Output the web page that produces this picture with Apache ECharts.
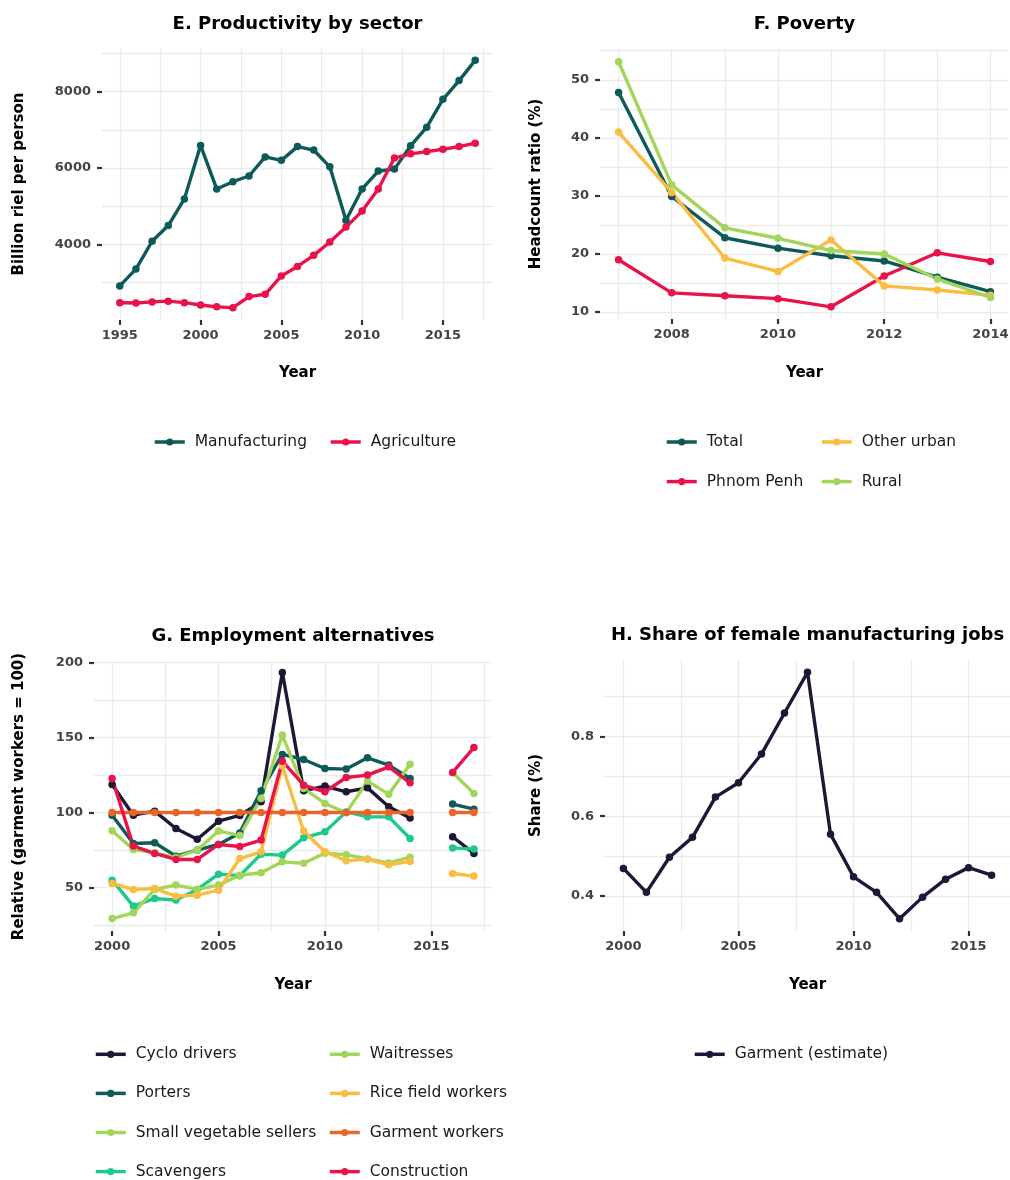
<!DOCTYPE html>
<html>
<head>
<meta charset="utf-8">
<script src="https://cdn.jsdelivr.net/npm/echarts@6/dist/echarts.min.js"></script>
<style>
  html, body { margin: 0; padding: 0; background: #ffffff; }
  #chart { width: 1010px; height: 1180px; }
</style>
</head>
<body>
<div id="chart"></div>
<script>
// ---------- E. Productivity by sector (billion riel per person) ----------
const prodYears = [1995, 1996, 1997, 1998, 1999, 2000, 2001, 2002, 2003, 2004, 2005, 2006,
                   2007, 2008, 2009, 2010, 2011, 2012, 2013, 2014, 2015, 2016, 2017];
const manufacturing = [2910, 3350, 4080, 4490, 5190, 6590, 5450, 5640, 5790, 6290, 6200, 6560,
                       6470, 6030, 4630, 5450, 5920, 5970, 6580, 7070, 7800, 8290, 8820];
const agriculture = [2470, 2460, 2490, 2510, 2470, 2410, 2360, 2340, 2630, 2690, 3170, 3420,
                     3710, 4060, 4450, 4870, 5450, 6260, 6370, 6430, 6490, 6560, 6650];

// ---------- F. Poverty (headcount ratio, %) ----------
const povertyYears = [2007, 2008, 2009, 2010, 2011, 2012, 2013, 2014];
const povTotal     = [47.8, 29.9, 22.8, 21.0, 19.7, 18.8, 16.0, 13.5];
const povPhnomPenh = [19.0, 13.3, 12.8, 12.3, 10.9, 16.2, 20.2, 18.7];
const povOtherUrban = [41.0, 30.6, 19.3, 17.0, 22.4, 14.5, 13.8, 12.9];
const povRural     = [53.1, 31.9, 24.5, 22.7, 20.6, 20.0, 15.7, 12.5];

// ---------- G. Employment alternatives (garment workers = 100) ----------
const empYears = [2000, 2001, 2002, 2003, 2004, 2005, 2006, 2007, 2008,
                  2009, 2010, 2011, 2012, 2013, 2014, 2015, 2016, 2017];
const cycloDrivers = [118.7, 98.2, 100.9, 89.3, 82.2, 94.2, 98.0, 107.1, 193.3,
                      114.4, 117.6, 113.8, 116.4, 103.8, 96.4, null, 83.8, 72.7];
const porters = [98.2, 79.3, 79.8, 70.9, 74.9, 78.7, 86.4, 114.4, 138.7,
                 135.3, 129.3, 128.9, 136.4, 131.6, 122.7, null, 105.6, 102.2];
const vegetableSellers = [87.8, 75.3, 73.1, 70.0, 74.9, 87.6, 84.7, 109.3, 151.6,
                          116.0, 106.0, 99.8, 120.9, 112.2, 132.2, null, 126.7, 112.7];
const scavengers = [54.9, 37.6, 42.7, 41.6, 48.7, 58.9, 57.9, 72.2, 71.6,
                    83.1, 87.1, 100.4, 97.1, 97.1, 82.7, null, 76.4, 75.6];
const waitresses = [29.3, 33.1, 48.7, 51.6, 48.7, 51.6, 58.2, 59.8, 67.1,
                    66.2, 72.9, 71.9, 69.0, 66.4, 70.2, null, null, null];
const riceWorkers = [52.7, 48.7, 49.3, 44.2, 44.9, 48.2, 69.3, 73.8, 131.0,
                     87.7, 73.8, 67.9, 68.8, 65.1, 67.4, null, 59.3, 57.6];
const garmentWorkers = [100, 100, 100, 100, 100, 100, 100, 100, 100,
                        100, 100, 100, 100, 100, 100, null, 100, 100];
const construction = [122.7, 77.6, 72.7, 68.7, 68.7, 78.7, 77.3, 81.6, 134.2,
                      118.2, 113.8, 123.3, 124.9, 130.4, 119.8, null, 126.7, 143.3];

// ---------- H. Share of female manufacturing jobs ----------
const shareYears = [2000, 2001, 2002, 2003, 2004, 2005, 2006, 2007, 2008,
                    2009, 2010, 2011, 2012, 2013, 2014, 2015, 2016];
const garmentShare = [0.469, 0.409, 0.497, 0.547, 0.648, 0.684, 0.756, 0.859, 0.961,
                      0.555, 0.448, 0.409, 0.343, 0.397, 0.442, 0.471, 0.452];

// ---------- grid lines and tick labels ----------
const prodXGrid = [1995, 1997.5, 2000, 2002.5, 2005, 2007.5, 2010, 2012.5, 2015, 2017.5];
const prodXTicks = [1995, 2000, 2005, 2010, 2015];
const prodYGrid = [3000, 4000, 5000, 6000, 7000, 8000, 9000];
const prodYTicks = [4000, 6000, 8000];

const povXGrid = [2007, 2008, 2009, 2010, 2011, 2012, 2013, 2014];
const povXTicks = [2008, 2010, 2012, 2014];
const povYGrid = [10, 15, 20, 25, 30, 35, 40, 45, 50, 55];
const povYTicks = [10, 20, 30, 40, 50];

const empXGrid = [2000, 2002.5, 2005, 2007.5, 2010, 2012.5, 2015, 2017.5];
const empXTicks = [2000, 2005, 2010, 2015];
const empYGrid = [25, 50, 75, 100, 125, 150, 175, 200];
const empYTicks = [50, 100, 150, 200];

const shareXGrid = [2000, 2002.5, 2005, 2007.5, 2010, 2012.5, 2015];
const shareXTicks = [2000, 2005, 2010, 2015];
const shareYGrid = [0.4, 0.5, 0.6, 0.7, 0.8, 0.9];
const shareYTicks = [0.4, 0.6, 0.8];

// ---------- styling ----------
const FONT = '"DejaVu Sans", "Liberation Sans", sans-serif';
const COLORS = {
  navy: '#1b1838', teal: '#0d5a58', lightGreen: '#a3d55b', mint: '#1fc98a',
  yellow: '#f9bd42', orange: '#e9652b', red: '#e8134b'
};

const panels = [
  {
    title: 'E. Productivity by sector', titleTop: 15.5,
    grid: { left: 102, top: 48, width: 391, height: 272 },
    x: { min: 1993.9, max: 2018.1, grid: prodXGrid, ticks: prodXTicks, name: 'Year', gap: 46 },
    y: { min: 2016, max: 9144, grid: prodYGrid, ticks: prodYTicks, name: 'Billion riel per person', gap: 75 }
  },
  {
    title: 'F. Poverty', titleTop: 15.5,
    grid: { left: 600, top: 49, width: 409, height: 270 },
    x: { min: 2006.65, max: 2014.35, grid: povXGrid, ticks: povXTicks, name: 'Year', gap: 47 },
    y: { min: 8.8, max: 55.3, grid: povYGrid, ticks: povYTicks, name: 'Headcount ratio (%)', gap: 56.5 }
  },
  {
    title: 'G. Employment alternatives', titleTop: 627,
    grid: { left: 94, top: 662, width: 398, height: 269 },
    x: { min: 1999.15, max: 2017.85, grid: empXGrid, ticks: empXTicks, name: 'Year', gap: 47 },
    y: { min: 21, max: 200.3, grid: empYGrid, ticks: empYTicks, name: 'Relative (garment workers = 100)', gap: 67 }
  },
  {
    title: 'H. Share of female manufacturing jobs', titleTop: 626.5,
    grid: { left: 605, top: 660, width: 405, height: 271 },
    x: { min: 1999.2, max: 2016.8, grid: shareXGrid, ticks: shareXTicks, name: 'Year', gap: 47 },
    y: { min: 0.312, max: 0.992, grid: shareYGrid, ticks: shareYTicks, name: 'Share (%)', gap: 61.5 }
  }
];

// Each panel gets two axes per dimension: one that only draws the light grid,
// and one that carries the tick marks, tick labels and axis title.
function gridAxis(i, r, position) {
  return {
    type: 'value', gridIndex: i, position, min: r.min, max: r.max, silent: true,
    axisLine: { show: false, onZero: false },
    axisTick: { show: false, customValues: r.grid },
    axisLabel: { show: false },
    splitLine: { show: true, lineStyle: { color: '#ebebeb', width: 1.3 } }
  };
}
function labelAxis(i, r, position) {
  const isX = position === 'bottom';
  return {
    type: 'value', gridIndex: i, position, min: r.min, max: r.max,
    axisLine: { show: false, onZero: false },
    axisTick: { show: true, customValues: r.ticks, length: 5, lineStyle: { color: '#333333', width: 2.2 } },
    axisLabel: {
      customValues: r.ticks, formatter: v => String(v),
      color: '#444444', fontWeight: 'bold', fontSize: 13, fontFamily: FONT,
      margin: isX ? 9.5 : 11
    },
    splitLine: { show: false },
    name: r.name, nameLocation: 'middle', nameGap: r.gap,
    nameTextStyle: { color: '#000000', fontWeight: 'bold', fontSize: 15, fontFamily: FONT }
  };
}

const grids = [], xAxes = [], yAxes = [], titles = [];
panels.forEach((p, i) => {
  grids.push(Object.assign({ containLabel: false, outerBoundsMode: 'none' }, p.grid));
  xAxes.push(gridAxis(i, p.x, 'bottom'), labelAxis(i, p.x, 'bottom'));
  yAxes.push(gridAxis(i, p.y, 'left'), labelAxis(i, p.y, 'left'));
  titles.push({
    type: 'text', x: p.grid.left + p.grid.width / 2, y: p.titleTop, silent: true,
    style: {
      text: p.title, fill: '#000000', fontSize: 18, fontWeight: 'bold', fontFamily: FONT,
      align: 'center', verticalAlign: 'top'
    }
  });
});

function line(name, color, years, values, panel) {
  return {
    type: 'line', name, xAxisIndex: 2 * panel + 1, yAxisIndex: 2 * panel + 1,
    data: years.map((yr, k) => [yr, values[k]]),
    color, symbol: 'circle', symbolSize: 7.5, showSymbol: true,
    lineStyle: { width: 3.4, color }, itemStyle: { color },
    emphasis: { disabled: true }, animation: false
  };
}

const series = [
  line('Manufacturing', COLORS.teal, prodYears, manufacturing, 0),
  line('Agriculture', COLORS.red, prodYears, agriculture, 0),

  line('Total', COLORS.teal, povertyYears, povTotal, 1),
  line('Phnom Penh', COLORS.red, povertyYears, povPhnomPenh, 1),
  line('Other urban', COLORS.yellow, povertyYears, povOtherUrban, 1),
  line('Rural', COLORS.lightGreen, povertyYears, povRural, 1),

  line('Cyclo drivers', COLORS.navy, empYears, cycloDrivers, 2),
  line('Porters', COLORS.teal, empYears, porters, 2),
  line('Small vegetable sellers', COLORS.lightGreen, empYears, vegetableSellers, 2),
  line('Scavengers', COLORS.mint, empYears, scavengers, 2),
  line('Waitresses', COLORS.lightGreen, empYears, waitresses, 2),
  line('Rice field workers', COLORS.yellow, empYears, riceWorkers, 2),
  line('Garment workers', COLORS.orange, empYears, garmentWorkers, 2),
  line('Construction', COLORS.red, empYears, construction, 2),

  line('Garment (estimate)', COLORS.navy, shareYears, garmentShare, 3)
];

function legend(names, left, top, orient, itemGap) {
  return {
    data: names, left, top, orient, itemGap,
    width: 400, height: 200, padding: 0,
    itemWidth: 30, itemHeight: 9, selectedMode: false,
    lineStyle: { width: 3.5 },
    textStyle: { fontSize: 15.5, color: '#1a1a1a', fontFamily: FONT, padding: [0, 0, 0, 5] }
  };
}

const option = {
  backgroundColor: '#ffffff',
  animation: false,
  grid: grids,
  xAxis: xAxes,
  yAxis: yAxes,
  graphic: titles,
  legend: [
    legend(['Manufacturing', 'Agriculture'], 153, 434, 'horizontal', 22),
    legend(['Total', 'Phnom Penh'], 665, 434, 'vertical', 23.6),
    legend(['Other urban', 'Rural'], 820, 434, 'vertical', 23.6),
    legend(['Cyclo drivers', 'Porters', 'Small vegetable sellers', 'Scavengers'], 94, 1046.3, 'vertical', 23.1),
    legend(['Waitresses', 'Rice field workers', 'Garment workers', 'Construction'], 328, 1046.3, 'vertical', 23.1),
    legend(['Garment (estimate)'], 693, 1046.3, 'horizontal', 10)
  ],
  tooltip: { show: false },
  series
};

const chart = echarts.init(document.getElementById('chart'), null, { renderer: 'canvas' });
chart.setOption(option);
</script>
</body>
</html>
